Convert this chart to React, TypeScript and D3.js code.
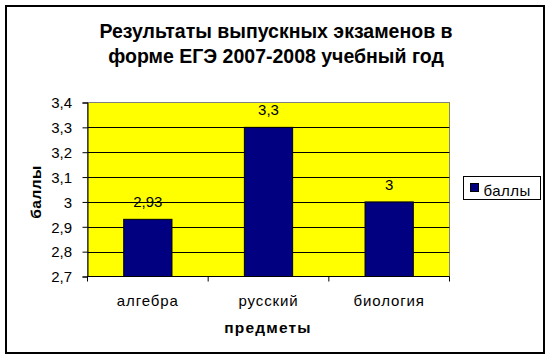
import React, { useEffect, useRef } from "react";
import * as d3 from "d3";

const categories = ["алгебра", "русский", "биология"];
const values = [2.93, 3.3, 3];
const valueLabels = ["2,93", "3,3", "3"];
const yTicks = [2.7, 2.8, 2.9, 3.0, 3.1, 3.2, 3.3, 3.4];
const seriesName = "баллы";
const titleLines = ["Результаты выпускных экзаменов в", "форме ЕГЭ 2007-2008 учебный год"];
const yTitle = "баллы";
const xTitle = "предметы";

const fmt = (v: number) => String(Math.round(v * 10) / 10).replace(".", ",");

export default function App() {
  const ref = useRef<SVGSVGElement>(null);
  useEffect(() => {
    const svg = d3.select(ref.current);
    svg.selectAll("*").remove();
    const font = "'Liberation Sans', Arial, sans-serif";
    const left = 87.5, right = 449.5, top = 102.5, bottom = 276.5;

    svg.append("rect").attr("x", 0).attr("y", 0).attr("width", 552).attr("height", 360).attr("fill", "#fff");
    svg.append("rect").attr("x", 6).attr("y", 6).attr("width", 538).attr("height", 347)
      .attr("fill", "#fff").attr("stroke", "#000").attr("stroke-width", 2);

    const title = svg.append("text").attr("text-anchor", "middle").attr("font-family", font)
      .attr("font-weight", "bold").attr("font-size", 19.5).attr("fill", "#000");
    titleLines.forEach((l, i) => title.append("tspan").attr("x", 276).attr("y", 38 + i * 24.5).text(l));

    const x = d3.scaleBand().domain(categories).range([left, right]).paddingInner(0.6).paddingOuter(0.3);
    const xb = d3.scaleBand().domain(categories).range([left, right]);
    const y = d3.scaleLinear().domain([2.7, 3.4]).range([bottom, top]);

    svg.append("rect").attr("x", left).attr("y", top).attr("width", right - left).attr("height", bottom - top)
      .attr("fill", "#ffff00").attr("stroke", "#808080").attr("stroke-width", 1);

    svg.append("g").selectAll("line").data(yTicks.slice(1, -1)).join("line")
      .attr("x1", left).attr("x2", right).attr("y1", d => Math.round(y(d)) + 0.5).attr("y2", d => Math.round(y(d)) + 0.5)
      .attr("stroke", "#000");

    svg.append("g").selectAll("rect").data(values).join("rect")
      .attr("x", (d, i) => x(categories[i])!).attr("width", x.bandwidth())
      .attr("y", d => y(d)).attr("height", d => bottom - y(d))
      .attr("fill", "#000080").attr("stroke", "#000").attr("stroke-width", 1);

    const yAxis = d3.axisLeft(y).tickValues(yTicks).tickSize(5).tickFormat(d => fmt(+d));
    const gy = svg.append("g").attr("transform", `translate(${left},0)`).call(yAxis);
    gy.select(".domain").attr("stroke", "#000");
    gy.selectAll("line").attr("stroke", "#000");
    gy.selectAll("text").attr("font-family", font).attr("font-size", 15).attr("fill", "#000").attr("x", -15.5).attr("dy", "0.35em");

    svg.append("line").attr("x1", left).attr("x2", right).attr("y1", bottom).attr("y2", bottom).attr("stroke", "#000");
    const bounds = categories.map(c => xb(c)!).concat([right]);
    svg.append("g").selectAll("line").data(bounds).join("line")
      .attr("x1", d => d).attr("x2", d => d).attr("y1", bottom).attr("y2", bottom + 5).attr("stroke", "#000");

    svg.append("g").selectAll("text").data(categories).join("text")
      .attr("x", d => xb(d)! + xb.bandwidth() / 2).attr("y", 305.5).attr("text-anchor", "middle")
      .attr("font-family", font).attr("font-size", 15).attr("fill", "#000").attr("letter-spacing", 0.9).text(d => d);

    svg.append("g").selectAll("text").data(values).join("text")
      .attr("x", (d, i) => xb(categories[i])! + xb.bandwidth() / 2).attr("y", d => y(d) - 12)
      .attr("text-anchor", "middle").attr("font-family", font).attr("font-size", 15).attr("fill", "#000")
      .text((d, i) => valueLabels[i]);

    svg.append("text").attr("x", 268).attr("y", 333).attr("text-anchor", "middle").attr("font-family", font)
      .attr("font-weight", "bold").attr("font-size", 15.5).attr("letter-spacing", 1.2).text(xTitle);
    svg.append("text").attr("transform", "translate(41,192) rotate(-90)").attr("text-anchor", "middle")
      .attr("font-family", font).attr("font-weight", "bold").attr("font-size", 15.5).attr("letter-spacing", 0.5).text(yTitle);

    svg.append("rect").attr("x", 463.5).attr("y", 176.5).attr("width", 77).attr("height", 23)
      .attr("fill", "#fff").attr("stroke", "#000");
    svg.append("rect").attr("x", 470.5).attr("y", 183.5).attr("width", 8).attr("height", 8)
      .attr("fill", "#000080").attr("stroke", "#000");
    svg.append("text").attr("x", 483.5).attr("y", 195.5).attr("font-family", font).attr("font-size", 15)
      .attr("letter-spacing", 0.5).text(seriesName);
  }, []);
  return (
    <svg ref={ref} width={552} height={360} style={{ position: "absolute", left: 0, top: 0, display: "block" }} />
  );
}
